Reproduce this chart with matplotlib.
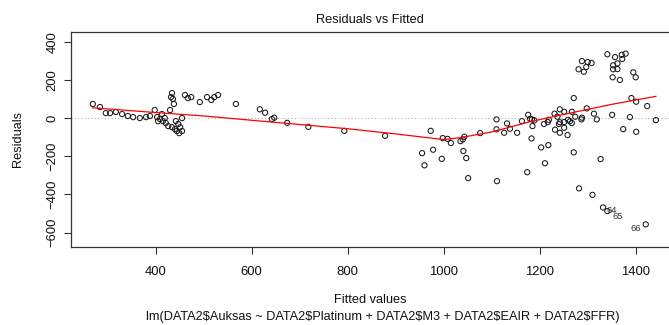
import matplotlib
matplotlib.use("Agg")
import matplotlib.pyplot as plt

plt.rcParams['font.family'] = ['Liberation Sans', 'DejaVu Sans']

# fitted values and residuals of the model
fitted = [
    269, 284, 296, 305, 317, 330, 342, 353, 367, 380, 388, 398, 403, 405, 409,
    413, 415, 419, 421, 426, 430, 432, 434, 436, 438, 434, 440, 444, 449, 451,
    455, 442, 447, 455, 461, 467, 474, 492, 507, 516, 522, 530, 567,
    617, 628, 642, 647, 674, 718, 793, 878,
    955, 960, 973, 978, 996, 998, 1008, 1015, 1035, 1040, 1041, 1043, 1047,
    1051, 1076, 1110, 1110, 1111, 1126, 1132, 1138, 1153, 1163, 1174, 1176,
    1180, 1183, 1184, 1185, 1189, 1203, 1209, 1211, 1217, 1218, 1219, 1231,
    1232, 1237, 1240, 1242, 1242, 1242, 1251, 1251, 1251, 1258, 1259, 1263,
    1267, 1267, 1271, 1271, 1274, 1281, 1282, 1288, 1288, 1287, 1292, 1297,
    1298, 1300, 1308, 1310, 1313, 1319, 1327, 1332, 1341, 1341, 1351, 1352,
    1353, 1353, 1357, 1362, 1362, 1367, 1371, 1372, 1374, 1379, 1388, 1391,
    1395, 1400, 1401, 1401, 1421, 1424, 1442,
]
residuals = [
    75, 59, 27, 27, 33, 22, 12, 6, 1, 6, 12, 43, 6, -15, -4,
    22, -15, 1, -25, -41, 43, 111, 132, 101, 75, -47, -57, -67, -78, -47,
    -67, -15, -30, 1, 122, 106, 111, 85, 111, 96, 111, 122, 75,
    47, 29, -4, 3, -24, -45, -66, -92,
    -183, -247, -66, -165, -213, -104, -108, -130, -120, -111, -172, -97, -209,
    -314, -78, -6, -58, -330, -76, -27, -55, -76, -15, -283, 18,
    -3, -106, -6, -41, -11, -153, -30, -236, -20, -141, -8, 24,
    -60, 8, -30, -21, 47, -76, 34, -50, -20, -88, -8, -16,
    34, -25, 106, -179, 8, 257, -368, 300, 3, -6, 244, 269,
    52, 295, 290, -402, 24, -6, -214, -468, -487, 336, 18, 215,
    278, 257, 321, 288, 258, 201, 333, 311, -57, 339, 6, 106,
    241, 215, 87, -71, -557, 64, -10,
]

# lowess smoother through the residuals
smooth_x = [269, 400, 500, 620, 800, 900, 1000, 1034, 1100, 1180, 1250, 1350, 1442]
smooth_y = [55, 30, 12, -15, -55, -82, -112, -102, -72, -18, 20, 73, 115]

# observations flagged with the largest residuals, with their label anchors
flag_ids = ["64", "65", "66"]
flag_lx = [1350, 1362, 1401]
flag_ly = [-486, -514, -580]

W, H, DPI = 669, 325, 100
fig = plt.figure(figsize=(W / DPI, H / DPI), dpi=DPI)
x0, x1 = 71, 678.4
y0, y1 = 32, 247
ax = fig.add_axes([x0 / W, 1 - y1 / H, (x1 - x0) / W, (y1 - y0) / H])

ax.axhline(0, color="#b0b0b0", lw=0.8, ls=(0, (1, 2)), zorder=1)
ax.scatter(fitted, residuals, s=14, facecolors="none", edgecolors="#1a1a1a",
           linewidths=0.75, zorder=2)
ax.plot(smooth_x, smooth_y, color="#ff0000", lw=0.9, zorder=3)

for lab, lx, ly in zip(flag_ids, flag_lx, flag_ly):
    ax.text(lx, ly, lab, fontsize=6.8, color="#333333", ha="center",
            va="center", zorder=4)

ax.set_xlim(223.6, 1489)
ax.set_ylim(-675.6, 452.7)
ax.set_xticks([400, 600, 800, 1000, 1200, 1400])
ax.set_yticks([-600, -400, -200, 0, 200, 400])
ax.tick_params(axis="both", direction="out", length=5, width=0.8,
               color="#333333", labelsize=9.4, labelcolor="#111111")
ax.tick_params(axis="x", pad=8.5)
ax.tick_params(axis="y", pad=4)
for lab in ax.get_yticklabels():
    lab.set_rotation(90)
    lab.set_va("center")
for side in ["left", "bottom", "top", "right"]:
    ax.spines[side].set_color("#333333")
    ax.spines[side].set_linewidth(0.9)

fs = 9.2
fig.text(370 / W, 1 - 20 / H, "Residuals vs Fitted", ha="center", va="center",
         fontsize=fs, color="#111111")
fig.text(18.3 / W, 1 - 139 / H, "Residuals", rotation=90, ha="center",
         va="center", fontsize=fs, color="#111111")
fig.text(370 / W, 1 - 300 / H, "Fitted values", ha="center", va="center",
         fontsize=fs, color="#111111")
fig.text(383 / W, 1 - 317 / H,
         "lm(DATA2$Auksas ~ DATA2$Platinum + DATA2$M3 + DATA2$EAIR + DATA2$FFR)",
         ha="center", va="center", fontsize=fs, color="#111111")

fig.savefig("out.png", dpi=DPI)
